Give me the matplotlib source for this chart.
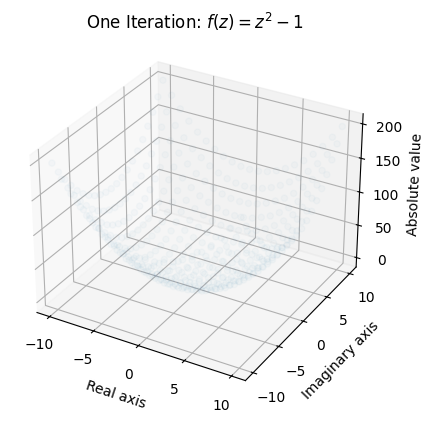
import matplotlib
matplotlib.use("Agg")
import matplotlib.pyplot as plt

grid_steps = [-10, -9, -8, -7, -6, -5, -4, -3, -2, -1, 0, 1, 2, 3, 4, 5, 6, 7, 8, 9, 10]
# absolute value read per |imag| row and |real| column
abs_table = [
    [1, 0, 3, 8, 15, 24, 35, 48, 63, 80, 99],
    [2, 2, 4, 9, 16, 25, 36, 49, 64, 81, 100],
    [5, 6, 8, 13, 19, 28, 39, 52, 67, 84, 103],
    [10, 11, 13, 18, 25, 34, 44, 57, 72, 89, 108],
    [17, 18, 21, 25, 32, 41, 52, 64, 79, 96, 115],
    [26, 27, 30, 34, 41, 50, 61, 74, 89, 105, 124],
    [37, 38, 41, 46, 52, 61, 72, 85, 100, 117, 135],
    [50, 51, 54, 59, 65, 74, 85, 98, 113, 130, 149],
    [65, 66, 69, 74, 81, 89, 100, 113, 128, 145, 164],
    [82, 83, 86, 91, 98, 107, 117, 130, 145, 162, 181],
    [101, 102, 105, 110, 117, 126, 136, 149, 164, 181, 200],
]

real_vals = []
imag_vals = []
abs_vals = []
for y in grid_steps:
    for x in grid_steps:
        real_vals.append(x)
        imag_vals.append(y)
        abs_vals.append(abs_table[abs(y)][abs(x)])

fig = plt.figure(figsize=(4.34, 4.23), dpi=100)
ax = fig.add_axes([9 / 434, 19 / 423, 371 / 434, 371 / 423], projection="3d")
ax.scatter(real_vals, imag_vals, abs_vals, alpha=0.025)
ax.set_title(r"One Iteration: $f(z) = z^2 - 1$", pad=3)
ax.set_xlabel("Real axis")
ax.set_ylabel("Imaginary axis")
ax.set_zlabel("Absolute value")
fig.savefig("out.png", dpi=100)
